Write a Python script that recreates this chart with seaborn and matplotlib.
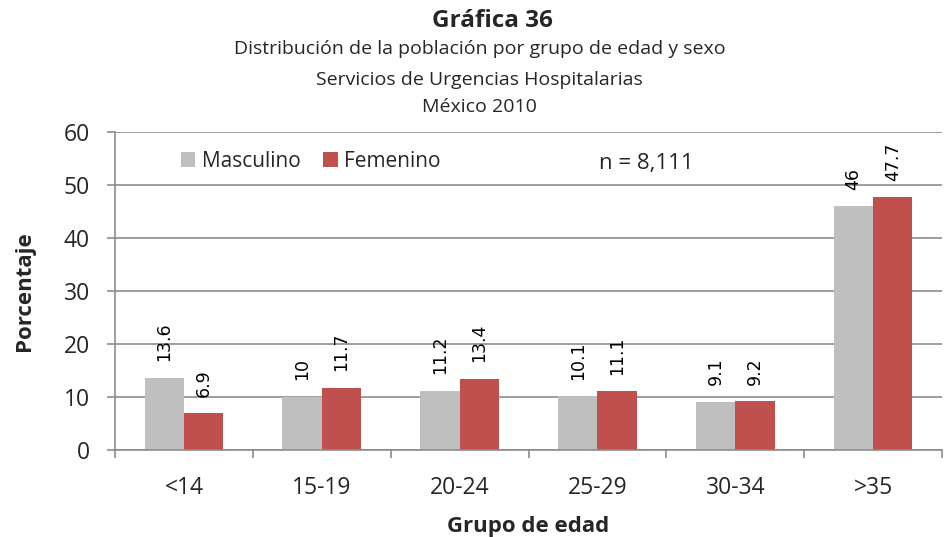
import matplotlib
matplotlib.use("Agg")
import matplotlib.pyplot as plt
import seaborn as sns
import pandas as pd
from matplotlib.ticker import FixedLocator

# Age groups and percentage of population by sex
grupos = ["<14", "15-19", "20-24", "25-29", "30-34", ">35"]
masculino = [13.6, 10, 11.2, 10.1, 9.1, 46]
femenino = [6.9, 11.7, 13.4, 11.1, 9.2, 47.7]
series = ["Masculino", "Femenino"]
colores = ["#BFBFBF", "#C0504D"]
yticks = [0, 10, 20, 30, 40, 50, 60]

df = pd.DataFrame({
    "grupo": grupos * 2,
    "valor": masculino + femenino,
    "sexo": [series[0]] * len(grupos) + [series[1]] * len(grupos),
})

sns.set_theme(style="white")
plt.rcParams["font.family"] = ["Open Sans", "DejaVu Sans"]

fig = plt.figure(figsize=(9.48, 5.37), dpi=100)
ax = fig.add_axes([0.1213, 0.162, 0.8724, 0.592])

sns.barplot(data=df, x="grupo", y="valor", hue="sexo", order=grupos,
            hue_order=series, palette=colores, width=0.57, gap=0,
            saturation=1, linewidth=0, ax=ax, legend=True)

for cont in ax.containers:
    labels = [f"{v:g}" for v in cont.datavalues]
    ax.bar_label(cont, labels=labels, rotation=90, padding=12,
                 fontsize=12.5, family="DejaVu Sans", color="black")

ax.set_xlim(-0.5, len(grupos) - 0.5)
ax.set_ylim(0, 60)
ax.set_yticks(yticks)
ax.yaxis.grid(True, color="#8C8C8C", linewidth=1.2)
ax.set_axisbelow(True)

for side in ["top", "right"]:
    ax.spines[side].set_visible(False)
for side in ["left", "bottom"]:
    ax.spines[side].set_color("#8C8C8C")
    ax.spines[side].set_linewidth(1.2)

# category boundaries carry the tick marks, labels sit at the centres
ax.xaxis.set_minor_locator(FixedLocator([i - 0.5 for i in range(len(grupos) + 1)]))
ax.tick_params(axis="x", which="major", length=0, pad=19, labelsize=16.5)
ax.tick_params(axis="x", which="minor", length=6, width=1.2, color="#8C8C8C",
               direction="out", bottom=True)
ax.tick_params(axis="y", length=6, width=1.2, color="#8C8C8C",
               direction="out", left=True, labelsize=16.5, pad=12)

ax.set_xlabel("Grupo de edad", fontsize=16, fontweight="bold", labelpad=11)
ax.set_ylabel("Porcentaje", fontsize=16, fontweight="bold", labelpad=21)

leg = ax.legend(loc="upper left", bbox_to_anchor=(0.057, 1.0), ncol=2,
                frameon=False, fontsize=15, handlelength=0.7, handleheight=0.7,
                handletextpad=0.3, columnspacing=1.1)

ax.text(0.642, 0.9025, "n = 8,111", transform=ax.transAxes, fontsize=16,
        ha="center", va="center")

fig.text(0.519, 0.961, "Gráfica 36", ha="center", va="center",
         fontsize=17.5, fontweight="bold")
fig.text(0.506, 0.909, "Distribución de la población por grupo de edad y sexo",
         ha="center", va="center", fontsize=14)
fig.text(0.506, 0.851, "Servicios de Urgencias Hospitalarias",
         ha="center", va="center", fontsize=14)
fig.text(0.506, 0.801, "México 2010", ha="center", va="center",
         fontsize=14)

fig.savefig("out.png", dpi=100)
